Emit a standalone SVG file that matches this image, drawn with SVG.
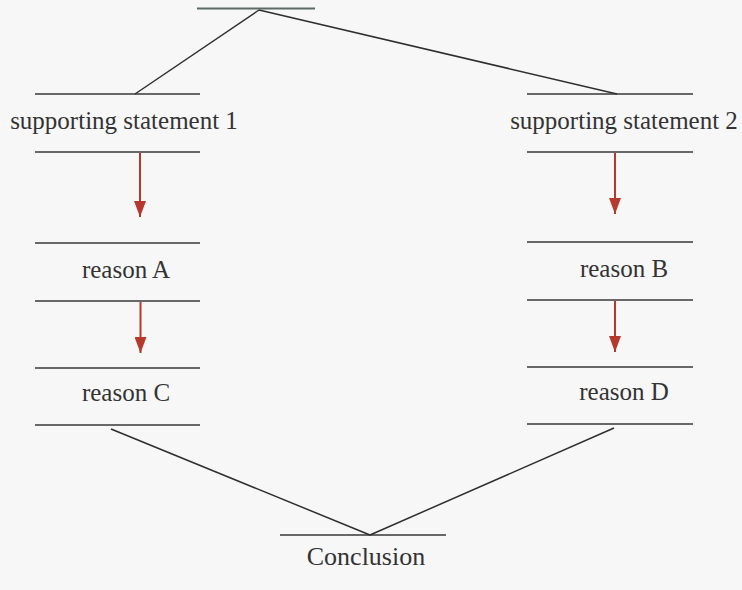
<svg xmlns="http://www.w3.org/2000/svg" width="742" height="590" viewBox="0 0 742 590">
<style>
.bg{fill:#f7f7f7}
.rule{stroke:#3a3838;stroke-width:1.6;fill:none}
.link{stroke:#2e2e2e;stroke-width:1.5;fill:none}
.arrow{stroke:#b5392d;stroke-width:2;fill:none}
.t{font-family:"Liberation Serif","Times New Roman","DejaVu Serif",serif;font-size:25px;fill:#333;text-anchor:middle}
</style>
<defs>
<marker id="ah" markerWidth="16" markerHeight="12" refX="16" refY="6" orient="auto" markerUnits="userSpaceOnUse" viewBox="0 0 16 12">
<path d="M0,0 L16,6 L0,12 Z" fill="#b5392d"/>
</marker>
</defs>
<rect class="bg" x="0" y="0" width="742" height="590"/>
<g id="top">
<line x1="197" y1="8.5" x2="315" y2="8.5" stroke="#5b6a66" stroke-width="2"/>
</g>
<g id="s1">
<line class="rule" x1="35" y1="94" x2="200" y2="94"/>
<text class="t" x="124" y="129">supporting statement 1</text>
<line class="rule" x1="35" y1="152" x2="200" y2="152"/>
</g>
<g id="s2">
<line class="rule" x1="527" y1="94" x2="693" y2="94"/>
<text class="t" x="624" y="129">supporting statement 2</text>
<line class="rule" x1="527" y1="152" x2="693" y2="152"/>
</g>
<g id="rA">
<line class="rule" x1="35" y1="243" x2="200" y2="243"/>
<text class="t" x="126" y="278">reason A</text>
<line class="rule" x1="35" y1="301" x2="200" y2="301"/>
</g>
<g id="rB">
<line class="rule" x1="527" y1="242" x2="693" y2="242"/>
<text class="t" x="624" y="277">reason B</text>
<line class="rule" x1="527" y1="300" x2="693" y2="300"/>
</g>
<g id="rC">
<line class="rule" x1="35" y1="368" x2="200" y2="368"/>
<text class="t" x="126" y="401">reason C</text>
<line class="rule" x1="35" y1="425" x2="200" y2="425"/>
</g>
<g id="rD">
<line class="rule" x1="527" y1="367" x2="693" y2="367"/>
<text class="t" x="624" y="400">reason D</text>
<line class="rule" x1="527" y1="424" x2="693" y2="424"/>
</g>
<g id="conclusion">
<line class="rule" x1="280" y1="535" x2="446" y2="535"/>
<text class="t" x="366" y="565" style="font-size:26px">Conclusion</text>
</g>
<g id="connectors">
<line class="link" x1="135" y1="94" x2="259" y2="10"/>
<line class="link" x1="259" y1="10" x2="617" y2="94"/>
<line class="link" x1="111" y1="429" x2="370" y2="535"/>
<line class="link" x1="614" y1="428" x2="370" y2="535"/>
<line class="arrow" x1="140" y1="153" x2="140" y2="217" marker-end="url(#ah)"/>
<line class="arrow" x1="615" y1="153" x2="615" y2="214" marker-end="url(#ah)"/>
<line class="arrow" x1="140.5" y1="302" x2="140.5" y2="353" marker-end="url(#ah)"/>
<line class="arrow" x1="615" y1="301" x2="615" y2="352" marker-end="url(#ah)"/>
</g>
</svg>
